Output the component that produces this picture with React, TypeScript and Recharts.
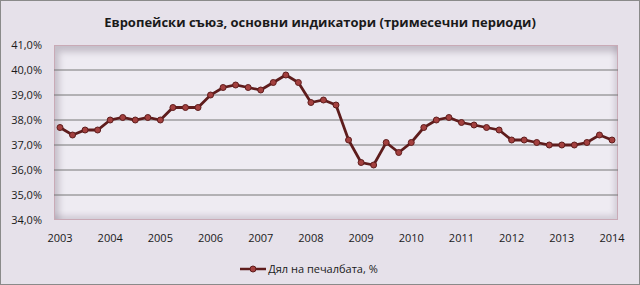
import React from "react";
import {
  LineChart,
  Line,
  XAxis,
  YAxis,
  CartesianGrid,
  Legend,
} from "recharts";

const title = "Европейски съюз, основни индикатори (тримесечни периоди)";
const seriesName = "Дял на печалбата, %";

const years = [2003, 2004, 2005, 2006, 2007, 2008, 2009, 2010, 2011, 2012, 2013, 2014];
const quarterNames = ["Q1", "Q2", "Q3", "Q4"];

// 2003 Q1 .. 2014 Q1
const profitShare = [
  37.7, 37.4, 37.6, 37.6,
  38.0, 38.1, 38.0, 38.1,
  38.0, 38.5, 38.5, 38.5,
  39.0, 39.3, 39.4, 39.3,
  39.2, 39.5, 39.8, 39.5,
  38.7, 38.8, 38.6, 37.2,
  36.3, 36.2, 37.1, 36.7,
  37.1, 37.7, 38.0, 38.1,
  37.9, 37.8, 37.7, 37.6,
  37.2, 37.2, 37.1, 37.0,
  37.0, 37.0, 37.1, 37.4,
  37.2,
];

const yTicks = [34, 35, 36, 37, 38, 39, 40, 41];
const gridValues = [35, 36, 37, 38, 39, 40];

const quarters = years.flatMap((y) => quarterNames.map((q) => `${y} ${q}`));
const data = profitShare.map((v, i) => ({ q: quarters[i], value: v }));

const FONT = "'Open Sans', 'Noto Sans', sans-serif";
const LINE = "#5e1c1c";
const DOT = "#a4403f";

const fmtPct = (v: number) => v.toFixed(1).replace(".", ",") + "%";

function LegendContent() {
  return (
    <div
      style={{
        display: "flex",
        justifyContent: "center",
        alignItems: "center",
        fontFamily: FONT,
        fontSize: 11,
        color: "#1a1a1a",
      }}
    >
      <svg width={26} height={10} style={{ marginRight: 2 }}>
        <line x1={0} y1={5} x2={26} y2={5} stroke={LINE} strokeWidth={2.5} />
        <circle cx={13} cy={5} r={3} fill={DOT} stroke={LINE} strokeWidth={1} />
      </svg>
      <span>{seriesName}</span>
    </div>
  );
}

export default function App() {
  return (
    <div
      style={{
        position: "absolute",
        left: 0,
        top: 0,
        width: 640,
        height: 285,
        boxSizing: "border-box",
        border: "1px solid #8a8a8a",
        background: "#e6e1ea",
        fontFamily: FONT,
      }}
    >
      <div
        style={{
          position: "absolute",
          left: 0,
          right: 0,
          top: 12,
          textAlign: "center",
          fontWeight: 700,
          fontSize: 13,
          color: "#1a1a1a",
        }}
      >
        {title}
      </div>
      {/* bevelled plot frame */}
      <div
        style={{
          position: "absolute",
          left: 53,
          top: 44,
          width: 564,
          height: 175,
          boxSizing: "border-box",
          border: "1px solid #c9aab6",
          background: "#eeebf2",
          boxShadow:
            "inset 7px 9px 6px -3px rgba(120,110,125,0.35), inset -6px -7px 5px -3px rgba(150,140,155,0.3)",
        }}
      />
      <div style={{ position: "absolute", left: -1, top: -1 }}>
        <LineChart
          width={640}
          height={285}
          data={data}
          margin={{ top: 45, right: 22, bottom: 9, left: 0 }}
        >
          <CartesianGrid
            vertical={false}
            horizontalValues={gridValues}
            stroke="#767676"
            strokeWidth={1}
          />
          <XAxis
            dataKey="q"
            interval={3}
            tickFormatter={(v: string) => v.slice(0, 4)}
            axisLine={false}
            tickLine={false}
            tickSize={0}
            tickMargin={14}
            height={41}
            padding={{ left: 6, right: 6 }}
            tick={{ fontSize: 11, fill: "#1a1a1a", fontFamily: FONT }}
          />
          <YAxis
            domain={[34, 41]}
            ticks={yTicks}
            tickFormatter={fmtPct}
            axisLine={false}
            tickLine={false}
            tickSize={0}
            tickMargin={12}
            width={54}
            tick={{ fontSize: 11, fill: "#1a1a1a", fontFamily: FONT }}
          />
          <Legend verticalAlign="bottom" content={<LegendContent />} />
          <Line
            type="linear"
            dataKey="value"
            name={seriesName}
            stroke={LINE}
            strokeWidth={2.8}
            dot={{ r: 3, fill: DOT, stroke: LINE, strokeWidth: 1 }}
            isAnimationActive={false}
          />
        </LineChart>
      </div>
    </div>
  );
}
